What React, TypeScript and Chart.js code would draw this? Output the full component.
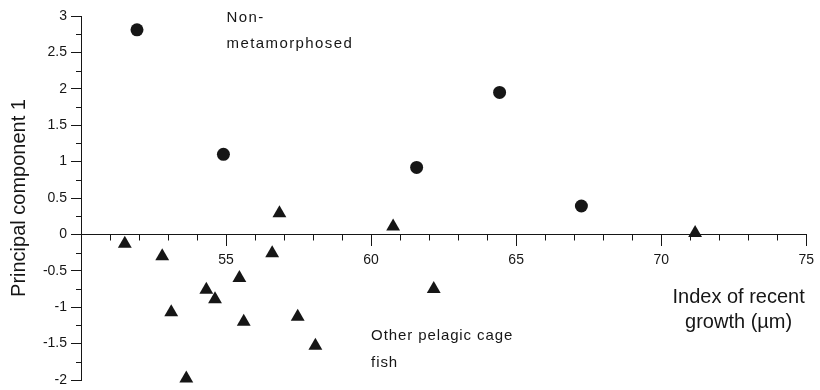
import React, { useEffect, useRef } from 'react';
import { Chart, registerables } from 'chart.js';

Chart.register(...registerables);

// ---- data ----
const nonMetX = [51.93, 54.91, 61.57, 64.43, 67.25];
const nonMetY = [2.81, 1.1, 0.92, 1.95, 0.39];

const otherX = [51.51, 52.8, 56.84, 56.59, 60.76, 55.46, 54.32, 54.62, 53.11, 55.61, 57.47, 58.08, 53.63, 62.16, 71.17];
const otherY = [-0.13, -0.3, 0.29, -0.26, 0.11, -0.6, -0.76, -0.89, -1.07, -1.2, -1.13, -1.53, -1.98, -0.75, 0.02];

const xTickValues = [50, 55, 60, 65, 70, 75];
const xTickLabels = ['', '55', '60', '65', '70', '75'];
const xMinorTickValues = [51, 52, 53, 54, 56, 57, 58, 59, 61, 62, 63, 64, 66, 67, 68, 69, 71, 72, 73, 74];

const yTickValues = [3, 2.5, 2, 1.5, 1, 0.5, 0, -0.5, -1, -1.5, -2];
const yTickLabels = ['3', '2.5', '2', '1.5', '1', '0.5', '0', '-0.5', '-1', '-1.5', '-2'];
const yMinorTickValues = [2.75, 2.25, 1.75, 1.25, 0.75, 0.25, -0.25, -0.75, -1.25, -1.75];

const yAxisTitle = 'Principal component 1';
const xAxisTitleLines = ['Index of recent', 'growth (µm)'];
const nonMetLabelLines = ['Non-', 'metamorphosed'];
const otherLabelLines = ['Other pelagic cage', 'fish'];

const INK = '#161616';
const FONT = '"Liberation Sans", Arial, Helvetica, sans-serif';

function drawLines(
  ctx: CanvasRenderingContext2D,
  lines: string[],
  x: number,
  y: number,
  step: number,
  align: CanvasTextAlign,
  size: number,
  spacing: number
) {
  ctx.font = `${size}px ${FONT}`;
  (ctx as any).letterSpacing = `${spacing}px`;
  ctx.textAlign = align;
  ctx.textBaseline = 'middle';
  lines.forEach((line, i) => ctx.fillText(line, x, y + i * step));
  (ctx as any).letterSpacing = '0px';
}

const annotatePlugin = {
  id: 'annotate',
  afterDraw(chart: any) {
    const { ctx, scales } = chart;
    const xs = scales.x;
    const ys = scales.y;
    ctx.save();
    ctx.strokeStyle = INK;
    ctx.fillStyle = INK;
    ctx.lineWidth = 1;

    // minor ticks on the x axis (which crosses at y = 0)
    const y0 = Math.round(ys.getPixelForValue(0)) + 0.5;
    xMinorTickValues.forEach((v) => {
      const px = Math.round(xs.getPixelForValue(v)) + 0.5;
      ctx.beginPath();
      ctx.moveTo(px, y0);
      ctx.lineTo(px, y0 + 6);
      ctx.stroke();
    });
    // minor ticks on the y axis
    const xl = Math.round(chart.chartArea.left) + 0.5;
    yMinorTickValues.forEach((v) => {
      const py = Math.round(ys.getPixelForValue(v)) + 0.5;
      ctx.beginPath();
      ctx.moveTo(xl - 5.5, py);
      ctx.lineTo(xl, py);
      ctx.stroke();
    });

    // annotations
    drawLines(ctx, nonMetLabelLines, xs.getPixelForValue(55.02), ys.getPixelForValue(2.97), 26, 'left', 15, 1.4);
    drawLines(ctx, otherLabelLines, xs.getPixelForValue(60.0), ys.getPixelForValue(-1.4), 27, 'left', 15, 0.9);
    drawLines(ctx, xAxisTitleLines, xs.getPixelForValue(72.67), ys.getPixelForValue(-0.865), 25, 'center', 20, 0);
    ctx.restore();
  },
};

export default function App() {
  const canvasRef = useRef<HTMLCanvasElement | null>(null);

  useEffect(() => {
    const canvas = canvasRef.current;
    if (!canvas) return;
    const chart = new Chart(canvas, {
      type: 'scatter',
      data: {
        datasets: [
          {
            label: 'Non-metamorphosed',
            data: nonMetX.map((x, i) => ({ x, y: nonMetY[i] })),
            pointStyle: 'circle',
            pointRadius: 6.5,
            pointBorderWidth: 0,
            backgroundColor: INK,
            borderColor: INK,
            clip: false as any,
          },
          {
            label: 'Other pelagic cage fish',
            data: otherX.map((x, i) => ({ x, y: otherY[i] })),
            pointStyle: 'triangle',
            pointRadius: 8,
            pointBorderWidth: 0,
            backgroundColor: INK,
            borderColor: INK,
            clip: false as any,
          },
        ],
      },
      options: {
        responsive: false,
        animation: false,
        devicePixelRatio: 1,
        layout: { padding: { top: 16, right: 11, bottom: 10, left: 0 } },
        plugins: {
          legend: { display: false },
          tooltip: { enabled: false },
        },
        scales: {
          x: {
            type: 'linear',
            min: 50,
            max: 75,
            position: { y: 0 } as any,
            afterBuildTicks: (scale: any) => {
              scale.ticks = xTickValues.map((value) => ({ value }));
            },
            ticks: {
              color: INK,
              font: { family: FONT, size: 14 },
              padding: 6,
              maxRotation: 0,
              autoSkip: false,
              callback: (value: any) => {
                const i = xTickValues.indexOf(Number(value));
                return i >= 0 ? xTickLabels[i] : '';
              },
            },
            grid: {
              drawOnChartArea: false,
              drawTicks: true,
              tickLength: 11,
              tickColor: INK,
              tickWidth: 1,
            },
            border: { display: true, color: INK, width: 1 },
          },
          y: {
            type: 'linear',
            min: -2,
            max: 3,
            position: 'left',
            afterFit: (scale: any) => {
              scale.width = 81;
              scale.paddingTop = 0;
              scale.paddingBottom = 0;
            },
            afterBuildTicks: (scale: any) => {
              scale.ticks = yTickValues.map((value) => ({ value }));
            },
            ticks: {
              color: INK,
              font: { family: FONT, size: 14 },
              padding: 4,
              autoSkip: false,
              callback: (value: any) => {
                const i = yTickValues.indexOf(Number(value));
                return i >= 0 ? yTickLabels[i] : '';
              },
            },
            grid: {
              drawOnChartArea: false,
              drawTicks: true,
              tickLength: 10,
              tickColor: INK,
              tickWidth: 1,
            },
            border: { display: true, color: INK, width: 1 },
            title: {
              display: true,
              text: yAxisTitle,
              color: INK,
              font: { family: FONT, size: 20, lineHeight: 1.2 },
              padding: { top: 7, bottom: 0 },
            },
          },
        },
      },
      plugins: [annotatePlugin],
    });
    return () => chart.destroy();
  }, []);

  return (
    <div style={{ position: 'fixed', left: 0, top: 0, width: 820, height: 390, background: '#fff' }}>
      <canvas ref={canvasRef} width={820} height={390} style={{ width: 820, height: 390, display: 'block' }} />
    </div>
  );
}
